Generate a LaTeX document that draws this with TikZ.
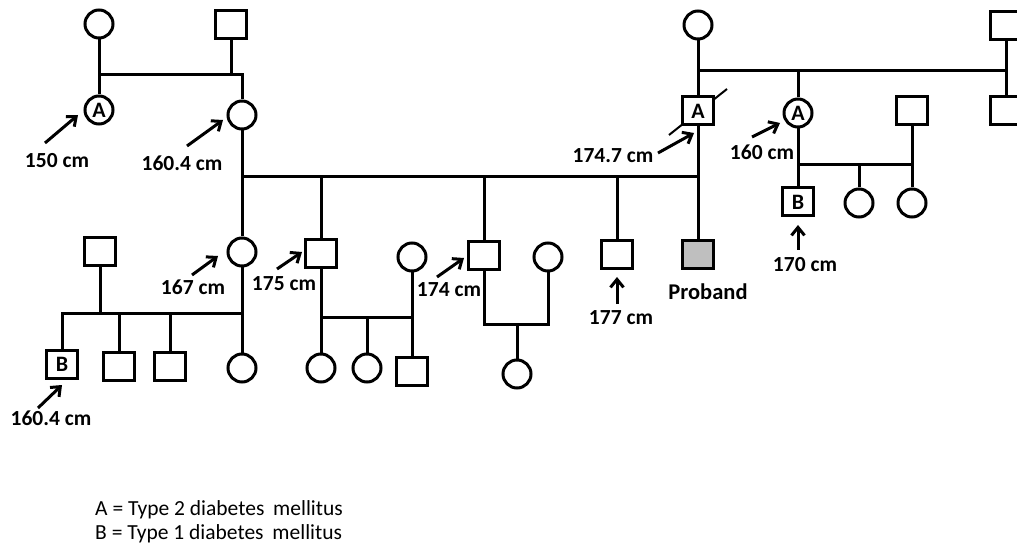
\documentclass[tikz,border=0pt]{standalone}
\usepackage{fontspec}
\setmainfont{Carlito}
\usetikzlibrary{arrows.meta, backgrounds}

\tikzset{
    person/.style={draw, line width=3pt, inner sep=0pt, fill=white,
        font=\bfseries\fontsize{22}{22}\selectfont},
    male/.style={person, rectangle, minimum width=31pt, minimum height=28pt},
    female/.style={person, circle, minimum size=28pt},
    proband/.style={male, fill=gray!50},
    link/.style={line width=3pt},
    hgt/.style={-{Straight Barb[length=8pt, width=13pt, line width=3pt]}, line width=3pt},
    hlabel/.style={inner sep=0pt, font=\bfseries\fontsize{21.5}{21.5}\selectfont},
}

\begin{document}
\begin{tikzpicture}[x=1pt, y=-1pt]

    \useasboundingbox (0,0) rectangle (1017,553);
    \clip (0,0) rectangle (1017,553);

    % -------------------------------------------------------
    % 1. Mother's side
    % -------------------------------------------------------
    \node[female] (gmL)   at (99,24)   {};
    \node[male]   (gfL)   at (231,25)  {};
    \node[female] (auntL) at (99,110)  {A};
    \node[female] (mo)    at (242,115) {};
    \coordinate (mL) at (99,75);
    \coordinate (mR) at (242,75);
    \draw[link] (gmL) -- (auntL);
    \draw[link] (mL) -- (mR) -- (mo);
    \draw[link] (gfL) -- (gfL |- mL);

    % -------------------------------------------------------
    % 2. Father's side
    % -------------------------------------------------------
    \node[female] (gmR)   at (698,25)  {};
    \node[male]   (gfR)   at (1006,26) {};
    \node[male]   (fa)    at (698,111) {A};
    \node[female] (auntR) at (798,113) {A};
    \node[male]   (uncR)  at (1006,111) {};
    \node[male]   (hR)    at (912,111) {};
    \coordinate (nR) at (1006,71);
    \coordinate (kR) at (912,165);
    \draw[link] (gmR) -- (fa);
    \draw[link] (gmR |- nR) -- (nR);
    \draw[link] (gfR) -- (uncR);
    \draw[link] (auntR) -- (auntR |- nR);
    \draw[link] (auntR) |- (kR) -- (hR);
    % deceased mark
    \begin{scope}[on background layer]
        \draw[line width=2pt] (fa) ++(-29,24) -- ++(58,-46);
    \end{scope}

    % cousins
    \node[male]   (cB)  at (798,202) {B};
    \node[female] (cc1) at (859,203) {};
    \node[female] (cc2) at (912,203) {};
    \foreach \c in {cB, cc1, cc2}
        \draw[link] (\c) -- (\c |- kR);

    % -------------------------------------------------------
    % 3. Parents and their children
    % -------------------------------------------------------
    \node[female]  (c1) at (242,252) {};
    \node[male]    (c2) at (321,254) {};
    \node[male]    (c3) at (484,256) {};
    \node[male]    (c4) at (617,255) {};
    \node[proband] (pb) at (698,255) {};
    \coordinate (sL) at (242,177);
    \coordinate (sR) at (698,177);
    \draw[link] (mo) -- (c1);
    \draw[link] (sL) -- (sR);
    \draw[link] (fa) -- (pb);
    \foreach \c in {c2, c3, c4}
        \draw[link] (\c) -- (\c |- sL);

    % family of c1
    \node[male]   (sp1) at (100,252) {};
    \node[male]   (d1)  at (62,364)  {B};
    \node[male]   (d2)  at (119,366) {};
    \node[male]   (d3)  at (170,366) {};
    \node[female] (d4)  at (242,368) {};
    \coordinate (k1) at (242,313);
    \draw[link] (c1) -- (d4);
    \draw[link] (d1) |- (k1);
    \foreach \c in {sp1, d2, d3}
        \draw[link] (\c) -- (\c |- k1);

    % family of c2
    \node[female] (w2) at (412,257) {};
    \node[female] (e1) at (321,368) {};
    \node[female] (e2) at (367,368) {};
    \node[male]   (e3) at (412,371) {};
    \coordinate (k2) at (412,317);
    \draw[link] (c2) |- (k2) -- (w2);
    \foreach \c in {e1, e2, e3}
        \draw[link] (\c) -- (\c |- k2);

    % family of c3
    \node[female] (w3) at (548,257) {};
    \node[female] (g1) at (517,374) {};
    \coordinate (k3) at (548,324);
    \draw[link] (c3) |- (k3) -- (w3);
    \draw[link] (g1) -- (g1 |- k3);

    % -------------------------------------------------------
    % 4. Heights
    % -------------------------------------------------------
    \foreach \n/\tx/\ty/\hx/\hy/\lx/\ly/\txt in {
        a/45/143/78/115/57/161/150 cm,
        b/187/146/223/120/182/163/160.4 cm,
        c/192/275/218/256/193/287/167 cm,
        d/277/269/302/252/284/284/175 cm,
        e/38/408/62/385/51/418/160.4 cm,
        f/437/277/464/258/449/290/174 cm,
        g/617/304/617/277/621/318/177 cm,
        h/658/153/694/133/613/156/174.7 cm,
        i/752/137/780/123/762/152/160 cm,
        j/798/250/798/225/805/265/170 cm} {
        \coordinate (t\n) at (\tx,\ty);
        \coordinate (h\n) at (\hx,\hy);
        \draw[hgt] (t\n) -- (h\n);
        \node[hlabel] (l\n) at (\lx,\ly) {\txt};
    }
    \node[inner sep=0pt, font=\bfseries\fontsize{22.5}{22.5}\selectfont]
        (lpb) at (708,292) {Proband};

    % -------------------------------------------------------
    % 5. Legend
    % -------------------------------------------------------
    \node[anchor=base west, inner sep=0pt, font=\fontsize{21.5}{21.5}\selectfont]
        (keyA) at (95,515) {A = Type 2 diabetes\hspace{4pt} mellitus};
    \node[anchor=base west, inner sep=0pt, font=\fontsize{21.5}{21.5}\selectfont]
        (keyB) at (95,539) {B = Type 1 diabetes\hspace{4pt} mellitus};

\end{tikzpicture}
\end{document}
